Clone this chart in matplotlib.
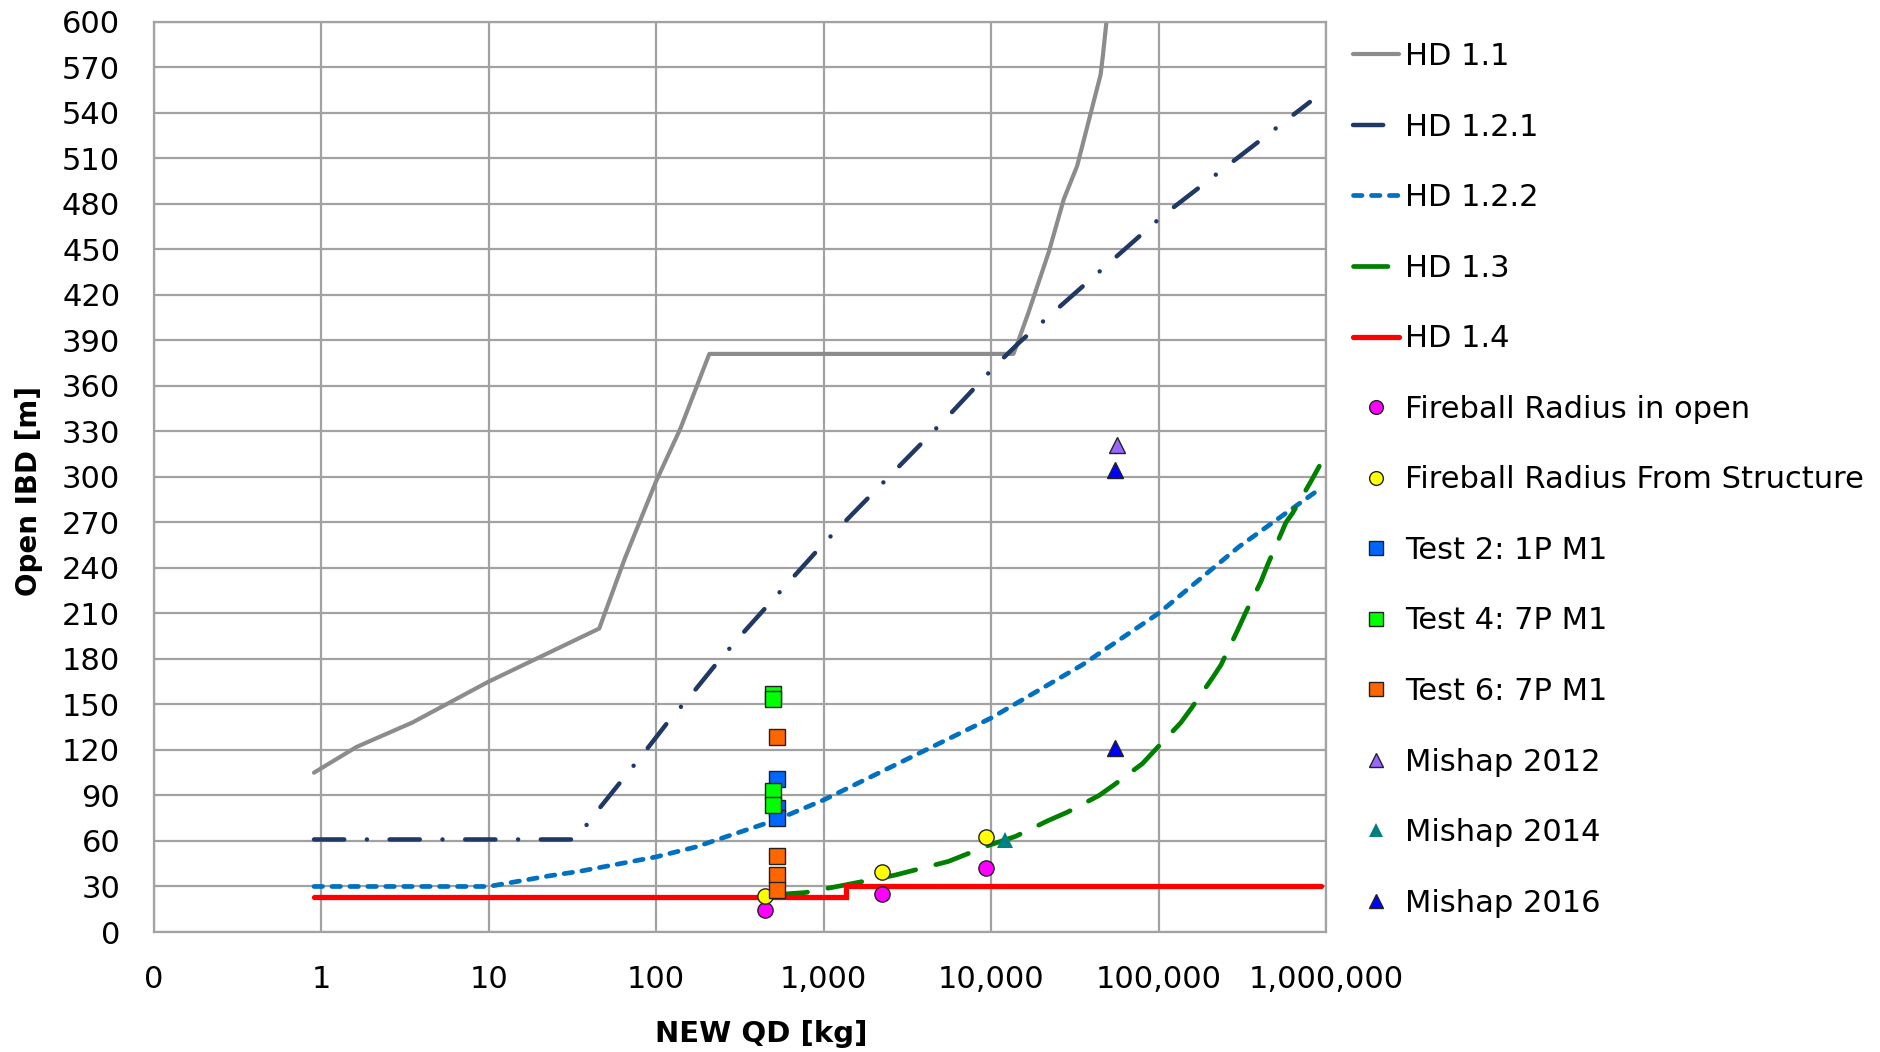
import matplotlib
matplotlib.use("Agg")
import matplotlib.pyplot as plt

plt.rcParams['font.family'] = ['DejaVu Sans']

# ---------------- data ----------------
hd11_x = [0.907, 1.63, 3.5, 10, 45.8, 65, 100, 140, 208, 13600, 14600, 16700, 22100, 27200, 32700, 45100, 46600, 50500]
hd11_y = [105, 122, 138, 165, 200, 246, 297, 332, 381, 381, 390, 408, 448, 483, 505, 565, 578, 615]

hd121_x = [0.907, 33, 45.5, 86, 117, 164, 226, 318, 445, 1000, 5550, 10570, 14900, 105700, 801000]
hd121_y = [61, 61, 81, 119, 138, 157, 176, 195, 213, 256, 340, 373, 389, 472, 547]

hd122_x = [0.907, 10, 23, 35, 100, 172, 525, 1000, 10000, 35000, 100000, 303000, 891000]
hd122_y = [30, 30, 37, 40, 49.5, 56, 74, 87, 141, 176, 210, 254, 291]

hd13_x = [500, 777, 1346, 2673, 5560, 9640, 14000, 22000, 28600, 44200, 54300, 80200, 96400,
          136000, 156000, 210000, 236000, 297000, 333000, 409000, 448000, 577000, 631000, 813000, 912000]
hd13_y = [24.5, 26, 31, 37.5, 46.5, 57, 63, 73.5, 79, 90, 97, 111, 120.5,
          138, 147, 167.5, 176, 199, 211, 231, 242, 270, 276, 297, 307]

hd14_x = [0.907, 1365, 1365, 933000]
hd14_y = [23, 23, 30.5, 30.5]

fb_open_x = [449, 2228, 9330]
fb_open_y = [14.4, 25.2, 41.9]
fb_struct_x = [449, 2228, 9330]
fb_struct_y = [23.8, 39.3, 62.4]
test2_x = [525, 525, 525]
test2_y = [100.6, 82, 75.2]
test4_x = [496, 496, 496, 496]
test4_y = [156.6, 153.3, 92.9, 84]
test6_x = [525, 525, 525, 525]
test6_y = [128.6, 50, 37.5, 27.8]
m2012_x = [56900]
m2012_y = [321]
m2014_x = [12200]
m2014_y = [60.4]
m2016_x = [55100, 55100]
m2016_y = [304.3, 121.1]

x_ticks = [0.1, 1, 10, 100, 1000, 10000, 100000, 1000000]
x_tick_labels = ["0", "1", "10", "100", "1,000", "10,000", "100,000", "1,000,000"]
y_ticks = list(range(0, 601, 30))

# ---------------- figure ----------------
W, H = 1881, 1052
fig = plt.figure(figsize=(W / 100, H / 100), dpi=100)
ax = fig.add_axes([153.6 / W, 1 - 932 / H, (1326 - 153.6) / W, (932 - 21.6) / H])

grid_c = '#A2A2A2'
ax.set_xscale('log')
ax.set_xlim(0.1, 1e6)
ax.set_ylim(0, 600)
ax.set_xticks(x_ticks)
ax.set_xticklabels(x_tick_labels)
ax.xaxis.set_minor_locator(matplotlib.ticker.NullLocator())
ax.set_yticks(y_ticks)
ax.tick_params(axis='both', length=0, labelsize=22)
ax.tick_params(axis='x', pad=24)
ax.tick_params(axis='y', pad=24)
ax.grid(True, color=grid_c, linewidth=1.6)
ax.set_axisbelow(True)
for s in ax.spines.values():
    s.set_color(grid_c)
    s.set_linewidth(1.6)

ax.plot(hd11_x, hd11_y, color='#8C8C8C', lw=3.0, solid_capstyle='round', label='HD 1.1', zorder=2)
ax.plot(hd121_x, hd121_y, color='#1F3864', lw=3.2, dashes=(6.8, 5.1, 0.01, 5.1),
        dash_capstyle='round', label='HD 1.2.1', zorder=2)
ax.plot(hd122_x, hd122_y, color='#0070C0', lw=3.4, dashes=(1.8, 2.0),
        dash_capstyle='round', label='HD 1.2.2', zorder=2)
ax.plot(hd13_x, hd13_y, color='#008000', lw=3.4, dashes=(7.3, 4.4),
        dash_capstyle='round', label='HD 1.3', zorder=2)
ax.plot(hd14_x, hd14_y, color='#FF0000', lw=3.8, solid_capstyle='round',
        solid_joinstyle='miter', label='HD 1.4', zorder=2)

ms = 11
ek = dict(markeredgecolor='#222222', markeredgewidth=1.0, linestyle='none', zorder=3)
ax.plot(fb_open_x, fb_open_y, marker='o', markersize=ms, markerfacecolor='#FF00FF',
        label='Fireball Radius in open', **ek)
ax.plot(fb_struct_x, fb_struct_y, marker='o', markersize=ms, markerfacecolor='#FFFF00',
        label='Fireball Radius From Structure', **ek)
ax.plot(test2_x, test2_y, marker='s', markersize=ms, markerfacecolor='#0066FF',
        label='Test 2: 1P M1', **ek)
ax.plot(test4_x, test4_y, marker='s', markersize=ms, markerfacecolor='#00FF00',
        label='Test 4: 7P M1', **ek)
ax.plot(test6_x, test6_y, marker='s', markersize=ms, markerfacecolor='#FF6600',
        label='Test 6: 7P M1', **ek)
ax.plot(m2012_x, m2012_y, marker='^', markersize=ms, markerfacecolor='#9966FF',
        label='Mishap 2012', **ek)
ax.plot(m2014_x, m2014_y, marker='^', markersize=ms, markerfacecolor='#008080',
        markeredgecolor='#008080', markeredgewidth=0, linestyle='none', zorder=3,
        label='Mishap 2014')
ax.plot(m2016_x, m2016_y, marker='^', markersize=ms, markerfacecolor='#0000FF',
        label='Mishap 2016', **ek)

ax.set_ylabel('Open IBD [m]', fontsize=20, fontweight='bold')
ax.yaxis.set_label_coords(-0.0943, 0.4844)
ax.set_xlabel('NEW QD [kg]', fontsize=21, fontweight='bold')
ax.xaxis.set_label_coords(0.518, -0.097)

handles, labels = ax.get_legend_handles_labels()
leg = fig.legend(handles, labels, loc='upper left', bbox_to_anchor=(1353 / W, 1 - 42 / H),
                 frameon=False, fontsize=22, handlelength=1.5, handletextpad=0.2,
                 labelspacing=1.36, borderpad=0, borderaxespad=0, markerscale=0.9)

fig.savefig('out.png', dpi=100)
